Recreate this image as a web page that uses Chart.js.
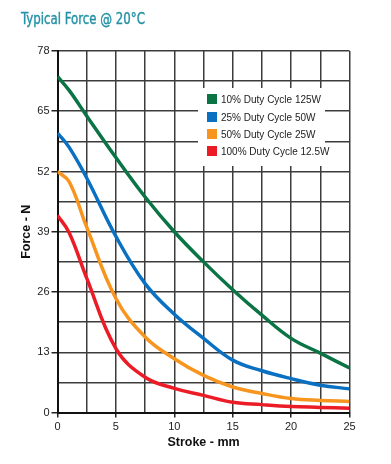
<!DOCTYPE html>
<html>
<head>
<meta charset="utf-8">
<script src="https://cdn.jsdelivr.net/npm/chart.js@4.4.1/dist/chart.umd.min.js"></script>
<style>
  html, body { margin: 0; padding: 0; background: #fff; }
  #wrap { position: relative; width: 391px; height: 464px; }
  #title {
    position: absolute; left: 21px; top: 11px;
    font: 16px/16px 'DejaVu Sans Condensed', 'Liberation Sans Narrow', Arial, sans-serif;
    color: #2591a6; white-space: nowrap;
    -webkit-text-stroke: 0.4px #2591a6;
    transform: scaleX(0.82); transform-origin: 0 0;
  }
  #legend {
    position: absolute; left: 198px; top: 88px; width: 127px; height: 78px;
    background: #fff;
  }
  .item {
    position: absolute; left: 9px; height: 12px; white-space: nowrap;
    font: 10px/12px 'Liberation Sans', Arial, sans-serif; color: #222;
  }
  .sw { display: inline-block; width: 10px; height: 10px; vertical-align: -1px; margin-right: 4px; }
</style>
</head>
<body>
<div id="wrap">
  <canvas id="chart" width="391" height="464"></canvas>
  <div id="title">Typical Force @ 20°C</div>
  <div id="legend"></div>
</div>
<script>
/* ─── data ─── */
const strokeMm = [0, 1, 2.5, 5, 7.5, 10, 12.5, 15, 17.5, 20, 22.5, 25];

const duty10 = [72.5, 69.5, 64, 55, 46.5, 39, 32.5, 26.5, 21, 16, 12.8, 9.6];
const duty25 = [60.3, 57.2, 50.6, 38, 27.8, 21.2, 16, 11.3, 9, 7.3, 5.9, 5.1];
const duty50 = [52, 49.8, 40, 24.6, 16.3, 11.6, 8, 5.5, 4.1, 3, 2.6, 2.4];
const duty100 = [42.5, 38.8, 29, 13.8, 7.6, 5.2, 3.7, 2.2, 1.7, 1.3, 1.1, 0.9];

const seriesLabels = ['10% Duty Cycle 125W', '25% Duty Cycle 50W', '50% Duty Cycle 25W', '100% Duty Cycle 12.5W'];
const seriesColors = ['#0b7444', '#0a70c2', '#f7951f', '#ec1c27'];
const seriesValues = [duty10, duty25, duty50, duty100];

const yTicks = [0, 13, 26, 39, 52, 65, 78];
const xTicks = [0, 5, 10, 15, 20, 25];

const isMajor = (v, list) => list.some(t => Math.abs(t - v) < 1e-6);

/* ─── chart ─── */
const datasets = seriesValues.map((vals, i) => ({
  label: seriesLabels[i],
  data: vals.map((y, j) => ({ x: strokeMm[j], y })),
  borderColor: seriesColors[i],
  backgroundColor: seriesColors[i],
  borderWidth: 3.5,
  pointRadius: 0,
  fill: false,
  tension: 0.4,
}));

const tickFont = { family: "'Liberation Sans', Arial, sans-serif", size: 11 };
const titleFont = { family: "'Liberation Sans', Arial, sans-serif", size: 12.5, weight: 'bold' };

new Chart(document.getElementById('chart'), {
  type: 'line',
  data: { datasets },
  options: {
    responsive: false,
    animation: false,
    devicePixelRatio: 1,
    layout: { padding: { left: 14, right: 41.5, top: 51, bottom: 0 } },
    plugins: { legend: { display: false }, tooltip: { enabled: false } },
    scales: {
      x: {
        type: 'linear',
        min: 0, max: 25,
        afterFit: (s) => { s.height = 51.5; },
        grid: {
          color: '#3c3c3c', lineWidth: 1.5, tickLength: 5,
          tickColor: (c) => (c.tick && isMajor(c.tick.value, xTicks) ? '#222' : 'rgba(0,0,0,0)'),
        },
        border: { color: '#111', width: 2 },
        ticks: {
          stepSize: 2.5, autoSkip: false, maxRotation: 0, padding: 3,
          color: '#222', font: tickFont,
          callback: (v) => (isMajor(v, xTicks) ? v : ''),
        },
        title: { display: true, text: 'Stroke - mm', color: '#111', font: titleFont, padding: { top: 0, bottom: 13.5 } },
      },
      y: {
        min: 0, max: 78,
        afterFit: (s) => { s.width = 43.5; },
        grid: {
          color: '#3c3c3c', lineWidth: 1.5, tickLength: 6,
          tickColor: (c) => (c.tick && isMajor(c.tick.value, yTicks) ? '#222' : 'rgba(0,0,0,0)'),
        },
        border: { color: '#111', width: 2 },
        ticks: {
          stepSize: 6.5, autoSkip: false, padding: 2,
          color: '#222', font: tickFont,
          callback: (v) => (isMajor(v, yTicks) ? v : ''),
        },
        title: { display: true, text: 'Force - N', color: '#111', font: titleFont, padding: { top: 5.5, bottom: 0 } },
      },
    },
  },
});

/* ─── legend (inside plot, white box) ─── */
const legendEl = document.getElementById('legend');
const rowTops = [6, 24, 41, 58];
seriesLabels.forEach((label, i) => {
  const row = document.createElement('div');
  row.className = 'item';
  row.style.top = rowTops[i] + 'px';
  const sw = document.createElement('span');
  sw.className = 'sw';
  sw.style.background = seriesColors[i];
  row.appendChild(sw);
  row.appendChild(document.createTextNode(label));
  legendEl.appendChild(row);
});
</script>
</body>
</html>
